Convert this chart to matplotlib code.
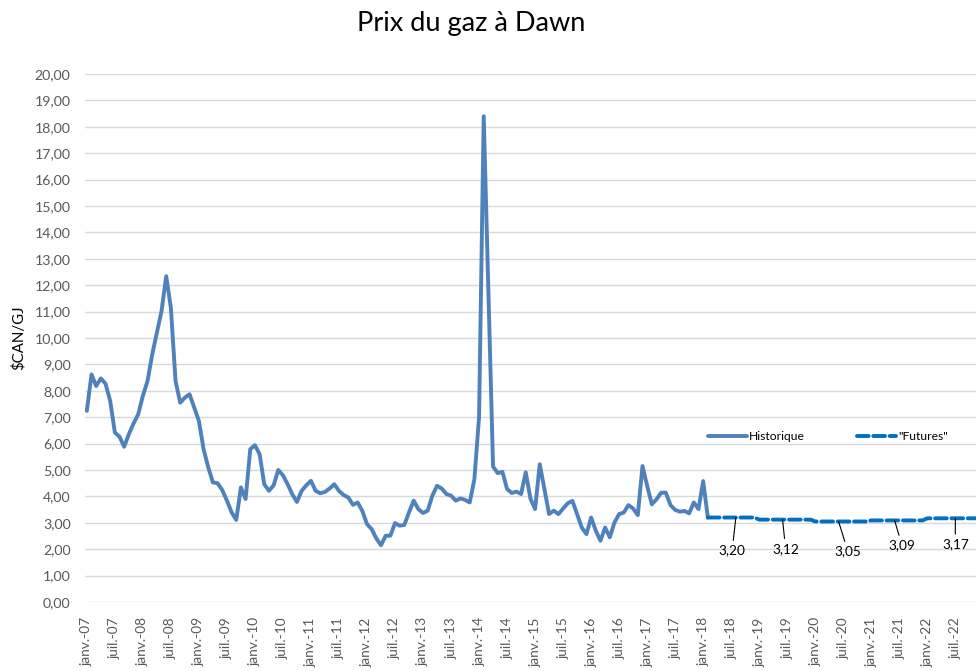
import matplotlib
matplotlib.use("Agg")
import matplotlib.pyplot as plt
from matplotlib.ticker import FuncFormatter, FixedLocator

plt.rcParams['font.family'] = ['Lato', 'DejaVu Sans']

title = "Prix du gaz à Dawn"
y_label = r"\$CAN/GJ"

# Monthly Dawn prices, Jan 2007 .. Feb 2018 (index 0 = janv.-07)
historique = [
    7.24, 8.62, 8.18, 8.47, 8.27, 7.62, 6.42, 6.26, 5.88, 6.36, 6.76, 7.11,
    7.81, 8.37, 9.38, 10.20, 11.02, 12.34, 11.14, 8.37, 7.55, 7.74, 7.87, 7.37,
    6.86, 5.79, 5.10, 4.53, 4.50, 4.24, 3.84, 3.40, 3.11, 4.34, 3.90, 5.79,
    5.94, 5.60, 4.46, 4.21, 4.42, 5.00, 4.80, 4.46, 4.08, 3.79, 4.21, 4.42,
    4.59, 4.21, 4.12, 4.17, 4.30, 4.46, 4.21, 4.05, 3.96, 3.68, 3.77, 3.45,
    2.95, 2.76, 2.41, 2.15, 2.51, 2.51, 2.99, 2.89, 2.92, 3.40, 3.84, 3.52,
    3.37, 3.46, 4.03, 4.40, 4.30, 4.09, 4.03, 3.84, 3.92, 3.87, 3.77, 4.65,
    7.00, 18.40, 11.80, 5.13, 4.88, 4.93, 4.28, 4.13, 4.18, 4.09, 4.91, 3.92,
    3.52, 5.22, 4.28, 3.33, 3.46, 3.33, 3.54, 3.74, 3.83, 3.33, 2.82, 2.57,
    3.20, 2.70, 2.32, 2.82, 2.45, 3.01, 3.33, 3.39, 3.67, 3.54, 3.29, 5.15,
    4.40, 3.70, 3.89, 4.14, 4.14, 3.67, 3.49, 3.42, 3.45, 3.36, 3.77, 3.52,
    4.58, 3.20,
]

# "Futures" curve, Feb 2018 .. Dec 2022
futures_start = 133
futures = [
    3.20, 3.20, 3.20, 3.20, 3.20, 3.20, 3.20, 3.20, 3.20, 3.20, 3.20,
    3.12, 3.12, 3.12, 3.12, 3.12, 3.12, 3.12, 3.12, 3.12, 3.12, 3.12, 3.12,
    3.05, 3.05, 3.05, 3.05, 3.05, 3.05, 3.05, 3.05, 3.05, 3.05, 3.05, 3.05,
    3.09, 3.09, 3.09, 3.09, 3.09, 3.09, 3.09, 3.09, 3.09, 3.09, 3.09, 3.09,
    3.17, 3.17, 3.17, 3.17, 3.17, 3.17, 3.17, 3.17, 3.17, 3.17, 3.17, 3.17,
]

# Labelled futures points (month index, label)
label_idx = [139, 149, 161, 173, 186]
label_txt = ["3,20", "3,12", "3,05", "3,09", "3,17"]
label_off = [(-2.7, -23.8), (2.2, -20.9), (6.7, -21.6), (5.3, -18.0), (0.0, -18.7)]

# Tick labels every 6 months
years = list(range(7, 23))
tick_labels = []
for y in years:
    tick_labels += [f"janv.-{y:02d}", f"juil.-{y:02d}"]
n_months = 192

W, H = 976, 671
fig = plt.figure(figsize=(W / 100, H / 100), dpi=100)
left_px, right_px = 84.5, 981.0
top_px, bot_px = 74.0, 602.0
ax = fig.add_axes([left_px / W, 1 - bot_px / H, (right_px - left_px) / W, (bot_px - top_px) / H])

x_hist = list(range(len(historique)))
x_fut = list(range(futures_start, futures_start + len(futures)))

ax.plot(x_hist, historique, color='#4F81BD', lw=2.8, solid_joinstyle='round',
        solid_capstyle='round', label='Historique', zorder=3)
ax.plot(x_fut, futures, color='#0070C0', lw=2.8, linestyle=(0, (3.0, 1.2)),
        dash_capstyle='round', label='"Futures"', zorder=3)

for i, t, off in zip(label_idx, label_txt, label_off):
    v = futures[i - futures_start]
    ax.annotate(t, xy=(i, v), xytext=off, textcoords='offset points',
                ha='center', va='center', fontsize=9.8, color='black',
                arrowprops=dict(arrowstyle='-', color='black', lw=0.8,
                                shrinkA=1, shrinkB=0))

ax.set_xlim(-0.5, n_months - 0.5)
ax.set_ylim(0, 20)
ax.yaxis.set_major_locator(FixedLocator(list(range(0, 21))))
ax.yaxis.set_major_formatter(FuncFormatter(lambda v, p: f"{v:.2f}".replace('.', ',')))
ax.set_xticks(list(range(0, n_months, 6)))
ax.set_xticklabels(tick_labels, rotation=90, fontsize=9.9, color='#595959')
ax.tick_params(axis='y', labelsize=10.2, labelcolor='#595959', length=0, pad=10)
ax.tick_params(axis='x', length=0, pad=11)
ax.grid(axis='y', color='#D9D9D9', lw=1.0, zorder=0)
for s in ax.spines.values():
    s.set_visible(False)

fig.text(471 / W, 1 - 24 / H, title, ha='center', va='center', fontsize=19.5, color='#000000')
fig.text(18 / W, 1 - 338 / H, y_label, rotation=90, ha='center', va='center',
         fontsize=10.8, color='#000000')

fig.legend(loc='center', bbox_to_anchor=(828 / W, 1 - 437 / H), ncol=2, frameon=False,
           fontsize=8.7, handlelength=3.2, columnspacing=4.3, handletextpad=0.2)

fig.savefig('out.png', dpi=100)
